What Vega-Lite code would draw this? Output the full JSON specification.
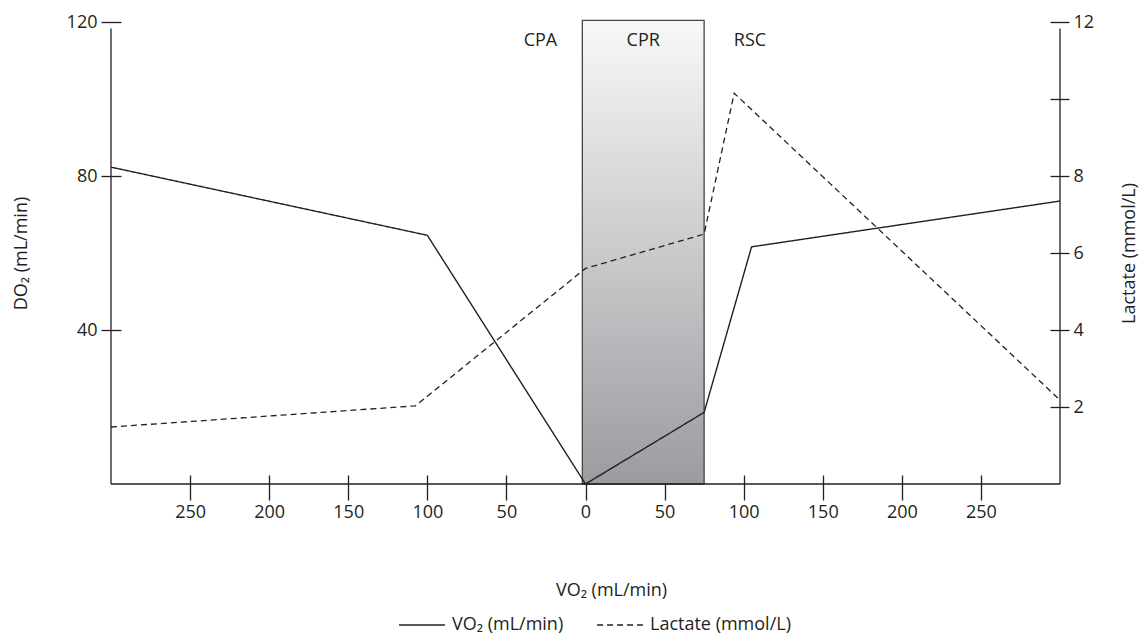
{
  "$schema": "https://vega.github.io/schema/vega-lite/v6.json",
  "width": 949,
  "height": 462,
  "autosize": {"type": "none"},
  "padding": {"left": 111, "top": 22, "right": 83, "bottom": 153},
  "background": "white",
  "config": {
    "font": "Open Sans",
    "view": {"stroke": null},
    "axis": {
      "labelFont": "Open Sans", "titleFont": "Open Sans",
      "labelFontSize": 18, "titleFontSize": 18,
      "labelColor": "#231f20", "titleColor": "#231f20",
      "tickColor": "#231f20", "tickWidth": 1.3,
      "titleFontWeight": "normal", "grid": false, "domain": false,
      "labelFlush": false, "labelOverlap": false
    }
  },
  "datasets": {
    "vo2": [
      {"x": -300, "v": 82.3}, {"x": -100, "v": 64.6}, {"x": 0, "v": 0},
      {"x": 75, "v": 18.6}, {"x": 105, "v": 61.6}, {"x": 300, "v": 73.5}
    ],
    "lactate": [
      {"x": -300, "v": 1.48}, {"x": -107.5, "v": 2.03}, {"x": 0, "v": 5.6},
      {"x": 75, "v": 6.49}, {"x": 94, "v": 10.15}, {"x": 300, "v": 2.18}
    ],
    "phase": [{"start": -2, "end": 75, "low": 0, "high": 120.4}],
    "labels": [
      {"x": -28.5, "y": 115, "t": "CPA"},
      {"x": 36.5, "y": 115, "t": "CPR"},
      {"x": 104, "y": 115, "t": "RSC"}
    ],
    "one": [{}]
  },
  "layer": [
    {
      "layer": [
        {
          "data": {"name": "phase"},
          "mark": {
            "type": "rect", "stroke": "#454545", "strokeWidth": 1.3,
            "fill": {"gradient": "linear", "x1": 0, "y1": 0, "x2": 0, "y2": 1,
              "stops": [{"offset": 0, "color": "#f8f8f8"}, {"offset": 1, "color": "#9b9ca0"}]}
          },
          "encoding": {
            "x": {
              "field": "start", "type": "quantitative",
              "scale": {"domain": [-300, 300], "nice": false, "zero": false},
              "axis": {
                "values": [-250, -200, -150, -100, -50, 0, 50, 100, 150, 200, 250],
                "labelExpr": "abs(datum.value)",
                "offset": -9, "tickSize": 25, "labelPadding": 3,
                "title": "VO₂ (mL/min)", "titlePadding": 60, "titleX": 500
              }
            },
            "x2": {"field": "end"},
            "y": {
              "field": "low", "type": "quantitative",
              "scale": {"domain": [0, 120], "nice": false},
              "axis": {
                "values": [40, 80, 120], "offset": -10, "tickSize": 20,
                "labelPadding": 4, "title": "DO₂ (mL/min)", "titlePadding": 36
              }
            },
            "y2": {"field": "high"}
          }
        },
        {
          "data": {"name": "one"},
          "mark": {"type": "rule", "color": "#231f20", "strokeWidth": 1.3},
          "encoding": {"x": {"datum": -300}, "y": {"datum": 0}, "y2": {"datum": 118.3}}
        },
        {
          "data": {"name": "one"},
          "mark": {"type": "rule", "color": "#231f20", "strokeWidth": 1.3},
          "encoding": {"x": {"datum": 300}, "y": {"datum": 0}, "y2": {"datum": 118.3}}
        },
        {
          "data": {"name": "one"},
          "mark": {"type": "rule", "color": "#231f20", "strokeWidth": 1.3},
          "encoding": {"x": {"datum": -300}, "x2": {"datum": 300}, "y": {"datum": 0}}
        },
        {
          "data": {"name": "vo2"},
          "mark": {"type": "line", "color": "#231f20", "strokeWidth": 1.4},
          "encoding": {
            "x": {"field": "x", "type": "quantitative"},
            "y": {"field": "v", "type": "quantitative"},
            "strokeDash": {
              "datum": "VO₂ (mL/min)", "type": "nominal",
              "scale": {"domain": ["VO₂ (mL/min)", "Lactate  (mmol/L)"], "range": [[1, 0], [6, 4]]},
              "legend": {
                "orient": "none", "legendX": 287, "legendY": 579, "direction": "horizontal",
                "title": null, "symbolType": "stroke", "symbolSize": 2100,
                "symbolStrokeWidth": 1.5, "symbolStrokeColor": "#231f20",
                "labelFont": "Open Sans", "labelFontSize": 18, "labelColor": "#231f20",
                "columnPadding": 30, "labelOffset": 6
              }
            }
          }
        },
        {
          "data": {"name": "labels"},
          "mark": {"type": "text", "fontSize": 18, "font": "Open Sans", "color": "#231f20", "align": "center", "baseline": "middle"},
          "encoding": {
            "x": {"field": "x", "type": "quantitative"},
            "y": {"field": "y", "type": "quantitative"},
            "text": {"field": "t"}
          }
        }
      ]
    },
    {
      "data": {"name": "lactate"},
      "mark": {"type": "line", "color": "#231f20", "strokeWidth": 1.3},
      "encoding": {
        "x": {"field": "x", "type": "quantitative"},
        "y": {
          "field": "v", "type": "quantitative",
          "scale": {"domain": [0, 12], "nice": false},
          "axis": {
            "orient": "right", "values": [2, 4, 6, 8, 10, 12],
            "labelExpr": "datum.value == 10 ? '' : datum.value",
            "offset": -10, "tickSize": 19, "labelPadding": 4,
            "title": "Lactate  (mmol/L)", "titlePadding": 45, "titleAngle": 270
          }
        },
        "strokeDash": {"datum": "Lactate  (mmol/L)", "type": "nominal"}
      }
    }
  ],
  "resolve": {"scale": {"y": "independent"}}
}
